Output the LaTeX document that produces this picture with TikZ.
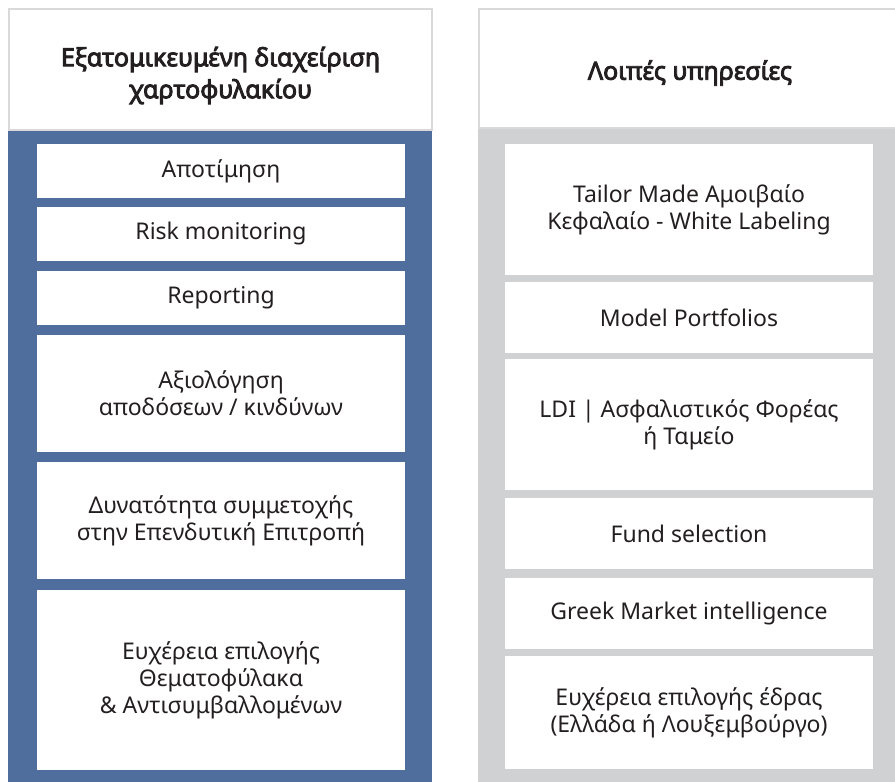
\documentclass[tikz,border=0pt]{standalone}
\usepackage{fontspec}
\setmainfont{Noto Sans}[AutoFakeBold=3.5]
\definecolor{panelblue}{HTML}{4F6E9E}
\definecolor{panelgrey}{HTML}{D0D1D3}
\definecolor{hdrline}{HTML}{D9D9D9}
\definecolor{txt}{HTML}{231F20}
\tikzset{
  hdr/.style={draw=hdrline, line width=2pt, fill=white, inner sep=0pt, outer sep=0pt, anchor=north west},
  hdrtext/.style={align=center, text=txt, inner sep=0pt, font=\fontsize{25}{32}\selectfont\bfseries},
  panel/.style={inner sep=0pt, outer sep=0pt, anchor=north west},
  itembox/.style={fill=white, inner sep=0pt, outer sep=0pt, anchor=north west, align=center,
    text=txt, font=\fontsize{23}{27}\selectfont},
}
\begin{document}
\begin{tikzpicture}[x=1pt,y=-1pt]
\useasboundingbox (0,0) rectangle (895,782);
\fill[white] (0,0) rectangle (895,782);
% panels
\node[panel, fill=panelblue, minimum width=424pt, minimum height=660pt] (lpanel) at (8,130) {};
\node[panel, fill=panelgrey, minimum width=430pt, minimum height=670pt] (rpanel) at (478,128) {};
% headers
\node[hdr, minimum width=423pt, minimum height=121pt] (lhead) at (9,9) {};
\node[hdrtext] (ltitle) at (220.5,75.5) {Εξατομικευμένη διαχείριση\\χαρτοφυλακίου};
\node[hdr, minimum width=430pt, minimum height=119pt] (rhead) at (479,9) {};
\node[hdrtext] (rtitle) at (690,73) {Λοιπές υπηρεσίες};
% left items
\node[itembox, minimum width=368pt, minimum height=54pt] (l1) at (37,144) {Αποτίμηση};
\node[itembox, minimum width=368pt, minimum height=54pt] (l2) at (37,207) {Risk monitoring};
\node[itembox, minimum width=368pt, minimum height=54pt] (l3) at (37,271) {Reporting};
\node[itembox, minimum width=368pt, minimum height=117pt] (l4) at (37,335) {Αξιολόγηση\\αποδόσεων / κινδύνων};
\node[itembox, minimum width=368pt, minimum height=117pt] (l5) at (37,462) {Δυνατότητα συμμετοχής\\στην Επενδυτική Επιτροπή};
\node[itembox, minimum width=368pt, minimum height=180pt] (l6) at (37,590) {Ευχέρεια επιλογής\\Θεματοφύλακα\\\& Αντισυμβαλλομένων};
% right items
\node[itembox, minimum width=368pt, minimum height=131pt] (r1) at (505,144) {Tailor Made Αμοιβαίο\\Κεφαλαίο - White Labeling};
\node[itembox, minimum width=368pt, minimum height=71pt] (r2) at (505,282) {Model Portfolios};
\node[itembox, minimum width=368pt, minimum height=131pt] (r3) at (505,359) {LDI | Ασφαλιστικός Φορέας\\ή Ταμείο};
\node[itembox, minimum width=368pt, minimum height=71pt] (r4) at (505,498) {Fund selection};
\node[itembox, minimum width=368pt, minimum height=71pt] (r5) at (505,578) {Greek Market intelligence};
\node[itembox, minimum width=368pt, minimum height=113pt] (r6) at (505,656) {Ευχέρεια επιλογής έδρας\\(Ελλάδα ή Λουξεμβούργο)};
\end{tikzpicture}
\end{document}
